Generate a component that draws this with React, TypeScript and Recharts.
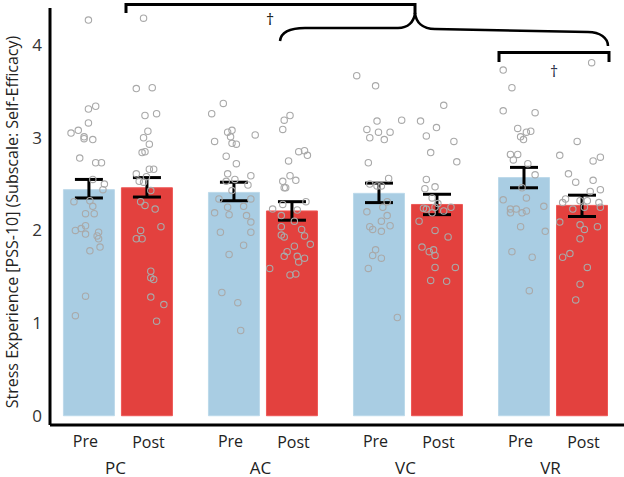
import { ComposedChart, Bar, Cell, ErrorBar, Scatter, XAxis, YAxis } from 'recharts'

const GROUPS = ['PC', 'AC', 'VC', 'VR']
const PHASES = ['Pre', 'Post']
const MEAN_PRE = [2.44, 2.41, 2.4, 2.57]
const MEAN_POST = [2.46, 2.21, 2.28, 2.27]
const CI_PRE = [[2.35, 2.55], [2.32, 2.52], [2.3, 2.51], [2.46, 2.68]]
const CI_POST = [[2.36, 2.57], [2.11, 2.31], [2.17, 2.39], [2.15, 2.38]]
const Y_TICKS = [0, 1, 2, 3, 4]

// single participants: [position inside the group slot, score]
const PC_PRE = [[0.3, 4.27], [0.35, 3.34], [0.3, 3.31], [0.3, 3.16], [0.18, 3.05], [0.23, 3.08], [0.27, 3.01], [0.27, 2.99], [0.33, 2.98], [0.24, 2.78], [0.35, 2.73], [0.39, 2.73], [0.33, 2.55], [0.41, 2.5], [0.4, 2.44], [0.2, 2.31], [0.31, 2.32], [0.33, 2.26], [0.28, 2.18], [0.34, 2.18], [0.28, 2.05], [0.25, 2.02], [0.21, 2.0], [0.28, 1.96], [0.37, 1.98], [0.36, 1.94], [0.37, 1.91], [0.38, 1.82], [0.31, 1.78], [0.28, 1.29], [0.21, 1.08]]
const PC_POST = [[0.68, 4.29], [0.63, 3.53], [0.74, 3.54], [0.77, 3.26], [0.69, 3.24], [0.71, 3.07], [0.68, 3.0], [0.72, 2.93], [0.67, 2.84], [0.69, 2.85], [0.72, 2.66], [0.75, 2.66], [0.63, 2.61], [0.7, 2.58], [0.65, 2.53], [0.68, 2.52], [0.73, 2.43], [0.66, 2.31], [0.69, 2.27], [0.76, 2.23], [0.8, 2.04], [0.66, 2.0], [0.63, 1.91], [0.67, 1.91], [0.73, 1.56], [0.73, 1.49], [0.75, 1.47], [0.73, 1.28], [0.82, 1.2], [0.77, 1.02]]
const AC_PRE = [[0.23, 3.37], [0.15, 3.26], [0.26, 3.06], [0.29, 3.08], [0.45, 3.03], [0.17, 2.96], [0.28, 3.01], [0.29, 2.94], [0.32, 2.93], [0.25, 2.8], [0.32, 2.72], [0.26, 2.61], [0.42, 2.59], [0.31, 2.55], [0.25, 2.53], [0.4, 2.49], [0.29, 2.43], [0.2, 2.34], [0.42, 2.34], [0.26, 2.25], [0.37, 2.26], [0.17, 2.19], [0.27, 2.17], [0.39, 2.16], [0.42, 2.09], [0.21, 1.98], [0.42, 1.98], [0.37, 1.84], [0.27, 1.74], [0.22, 1.33], [0.33, 1.22], [0.35, 0.92]]
const AC_POST = [[0.69, 3.24], [0.65, 3.19], [0.64, 3.09], [0.75, 2.85], [0.79, 2.86], [0.81, 2.81], [0.68, 2.75], [0.69, 2.59], [0.73, 2.54], [0.64, 2.53], [0.65, 2.46], [0.66, 2.46], [0.8, 2.31], [0.64, 2.28], [0.57, 2.23], [0.74, 2.22], [0.63, 2.16], [0.72, 2.1], [0.63, 2.04], [0.77, 2.01], [0.63, 1.95], [0.65, 1.93], [0.79, 1.94], [0.83, 1.85], [0.72, 1.83], [0.67, 1.77], [0.65, 1.72], [0.74, 1.72], [0.79, 1.7], [0.75, 1.66], [0.55, 1.59], [0.69, 1.52], [0.73, 1.53]]
const VC_PRE = [[0.15, 3.67], [0.28, 3.56], [0.29, 3.18], [0.22, 3.09], [0.3, 3.06], [0.38, 3.06], [0.46, 3.19], [0.24, 3.0], [0.34, 2.98], [0.23, 2.73], [0.37, 2.56], [0.24, 2.5], [0.29, 2.48], [0.32, 2.48], [0.36, 2.31], [0.33, 2.25], [0.22, 2.2], [0.36, 2.16], [0.32, 2.1], [0.38, 2.05], [0.24, 2.04], [0.26, 2.01], [0.32, 1.99], [0.28, 1.79], [0.26, 1.73], [0.32, 1.7], [0.23, 1.59], [0.43, 1.06]]
const VC_POST = [[0.75, 3.35], [0.59, 3.18], [0.7, 3.11], [0.63, 3.02], [0.82, 2.96], [0.66, 2.84], [0.84, 2.74], [0.63, 2.55], [0.69, 2.47], [0.62, 2.45], [0.67, 2.35], [0.71, 2.29], [0.61, 2.24], [0.63, 2.23], [0.69, 2.25], [0.8, 2.25], [0.75, 2.21], [0.67, 2.19], [0.58, 2.1], [0.69, 2.0], [0.78, 1.93], [0.6, 1.82], [0.68, 1.79], [0.65, 1.77], [0.69, 1.73], [0.69, 1.6], [0.83, 1.6], [0.66, 1.46], [0.77, 1.45]]
const VR_PRE = [[0.16, 3.73], [0.22, 3.54], [0.16, 3.29], [0.38, 3.27], [0.26, 3.1], [0.28, 3.01], [0.3, 2.98], [0.32, 3.06], [0.35, 3.07], [0.21, 2.82], [0.26, 2.82], [0.23, 2.76], [0.33, 2.72], [0.38, 2.6], [0.29, 2.46], [0.16, 2.33], [0.32, 2.35], [0.21, 2.23], [0.21, 2.19], [0.25, 2.23], [0.29, 2.19], [0.32, 2.21], [0.44, 2.26], [0.28, 2.04], [0.45, 1.99], [0.22, 1.77], [0.36, 1.71], [0.34, 1.35]]
const VR_POST = [[0.77, 3.81], [0.67, 2.96], [0.55, 2.81], [0.83, 2.79], [0.78, 2.75], [0.61, 2.61], [0.66, 2.52], [0.78, 2.54], [0.83, 2.44], [0.76, 2.42], [0.59, 2.34], [0.57, 2.3], [0.69, 2.32], [0.74, 2.32], [0.82, 2.3], [0.64, 2.23], [0.72, 2.25], [0.83, 2.25], [0.55, 2.09], [0.69, 2.06], [0.72, 2.01], [0.81, 2.04], [0.69, 1.91], [0.62, 1.75], [0.57, 1.71], [0.74, 1.6], [0.69, 1.42], [0.66, 1.25]]

const POINTS = [PC_PRE, PC_POST, AC_PRE, AC_POST, VC_PRE, VC_POST, VR_PRE, VR_POST]

const PRE_COLOR = '#a9cde3'
const POST_COLOR = '#e3413e'
const FONT = '"Open Sans", "Noto Sans", sans-serif'
const SLOT = [0.3, 0.7] // where pre / post bars sit inside a group
const X_DOMAIN = [0.035, 3.993]

const barData = GROUPS.flatMap((g, i) => [
  { x: i + SLOT[0], mean: MEAN_PRE[i], err: [MEAN_PRE[i] - CI_PRE[i][0], CI_PRE[i][1] - MEAN_PRE[i]], phase: 0 },
  { x: i + SLOT[1], mean: MEAN_POST[i], err: [MEAN_POST[i] - CI_POST[i][0], CI_POST[i][1] - MEAN_POST[i]], phase: 1 },
])

const scatterData = POINTS.flatMap((pts, k) =>
  pts.map(([j, v]) => ({ x: Math.floor(k / 2) + j, y: v }))
)

const GroupTick = ({ x, y, payload }: any) => {
  const name = GROUPS[Math.floor(payload.value)]
  return (
    <g fontFamily={FONT} fill="#222">
      <text x={x - 32} y={y + 14} textAnchor="middle" fontSize={16}>{PHASES[0]}</text>
      <text x={x + 31} y={y + 15} textAnchor="middle" fontSize={16}>{PHASES[1]}</text>
      <text x={x - 2} y={y + 41} textAnchor="middle" fontSize={17}>{name}</text>
    </g>
  )
}

const Dot = (props: any) => (
  <circle cx={props.cx} cy={props.cy} r={3.2} fill="none" stroke="#a9a9a9" strokeWidth={1.1} />
)

export default function App() {
  return (
    <div style={{ position: 'absolute', left: 0, top: 0, width: 624, height: 477, background: '#fff' }}>
      <ComposedChart width={624} height={477} data={barData} margin={{ top: 8, right: 0, bottom: 0, left: 0 }}>
        <XAxis
          type="number"
          dataKey="x"
          domain={X_DOMAIN}
          ticks={[0.5, 1.5, 2.5, 3.5]}
          allowDataOverflow
          tickLine={false}
          axisLine={{ stroke: '#000', strokeWidth: 3 }}
          height={52}
          tick={<GroupTick />}
          interval={0}
        />
        <XAxis xAxisId="pts" type="number" dataKey="x" domain={X_DOMAIN} allowDataOverflow hide />
        <YAxis
          type="number"
          domain={[-0.1, 4.4]}
          ticks={Y_TICKS}
          allowDataOverflow
          tickLine={false}
          axisLine={{ stroke: '#000', strokeWidth: 3 }}
          width={50}
          tick={{ fontSize: 17, fill: '#333', fontFamily: FONT }}
        />
        <Bar dataKey="mean" barSize={51} isAnimationActive={false}>
          {barData.map((d, i) => (
            <Cell
              key={`bar-${i}`}
              fill={d.phase === 0 ? PRE_COLOR : POST_COLOR}
              stroke={d.phase === 0 ? '#bcd9ea' : '#ee5856'}
              strokeWidth={1}
            />
          ))}
          <ErrorBar dataKey="err" direction="y" width={14} stroke="#000" strokeWidth={3} />
        </Bar>
        <Scatter xAxisId="pts" data={scatterData} dataKey="y" shape={<Dot />} isAnimationActive={false} />
      </ComposedChart>
      <svg width={624} height={477} style={{ position: 'absolute', left: 0, top: 0, pointerEvents: 'none' }}>
        <text
          transform="translate(18,222) rotate(-90)"
          textAnchor="middle"
          fontSize={16}
          fontFamily={FONT}
          fill="#222"
        >
          Stress Experience [PSS-10] (Subscale: Self-Efficacy)
        </text>
        <path d="M126,13 L126,4.5 L415,4.5 L415,14" fill="none" stroke="#000" strokeWidth={3} />
        <path
          d="M280,41 C281,32 290,28 305,28 L398,28 C408,28 414,22 415,13 C416,22 422,29 435,29 L588,32 C600,32 608,38 608,46"
          fill="none"
          stroke="#000"
          strokeWidth={2.5}
        />
        <path d="M499,62 L499,52.5 L609,52.5 L609,62" fill="none" stroke="#000" strokeWidth={3} />
        <text x={270} y={25} textAnchor="middle" fontSize={16} fontFamily={FONT} fill="#111">†</text>
        <text x={554} y={77} textAnchor="middle" fontSize={16} fontFamily={FONT} fill="#1f2a44">†</text>
      </svg>
    </div>
  )
}
